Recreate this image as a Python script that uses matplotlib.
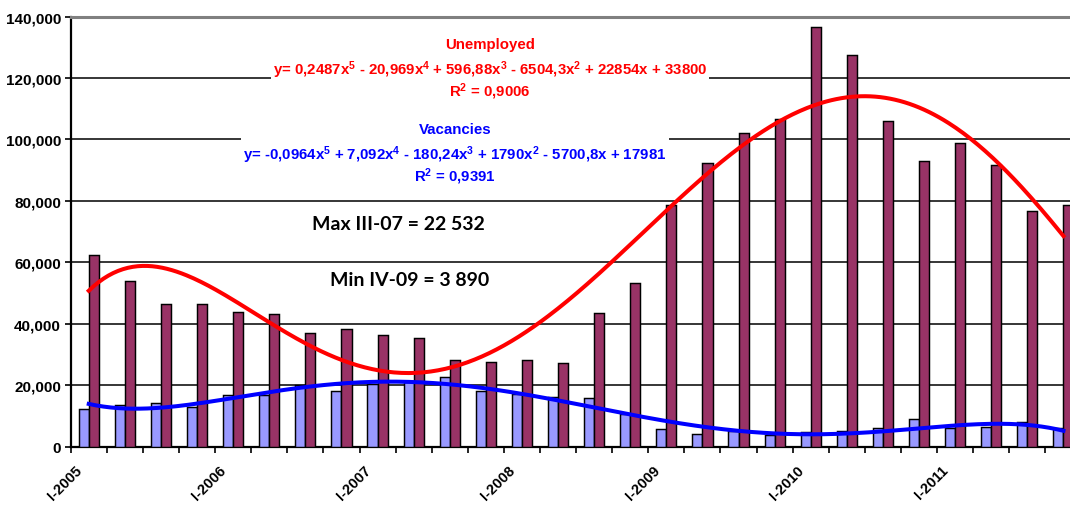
import numpy as np
import matplotlib
matplotlib.use("Agg")
import matplotlib.pyplot as plt
from matplotlib.ticker import FuncFormatter
from matplotlib.patches import Rectangle
from matplotlib.transforms import blended_transform_factory, ScaledTranslation

plt.rcParams["font.family"] = ["Liberation Sans", "DejaVu Sans"]
plt.rcParams["font.weight"] = "bold"
plt.rcParams["mathtext.fontset"] = "custom"
plt.rcParams["mathtext.rm"] = "Liberation Sans:bold"
plt.rcParams["mathtext.it"] = "Liberation Sans:bold"
plt.rcParams["mathtext.bf"] = "Liberation Sans:bold"

# Quarters I-2005 .. IV-2011
quarters = [f"{q}-{y}" for y in range(2005, 2012) for q in ("I", "II", "III", "IV")]

vacancies = [12200, 13600, 14300, 12800, 16900, 16800, 19900, 18000,
             20500, 21000, 22532, 18000, 17100, 16000, 15900, 10500,
             5700, 4000, 5200, 3890, 4600, 5200, 5950, 9100,
             5900, 6400, 8000, 6100]

unemployed = [62500, 54000, 46300, 46300, 43800, 43000, 37000, 38400,
              36400, 35200, 28300, 27700, 28300, 27100, 43600, 53400,
              78700, 92300, 102100, 106600, 136500, 127500, 106000, 93000,
              98800, 91700, 76700, 78600]

# Polynomial trend coefficients (highest power first)
unemp_coef = [0.2487, -20.969, 596.88, -6504.3, 22854, 33800]
vac_coef = [-0.0964, 7.092, -180.24, 1790, -5700.8, 17981]

unemp_lines = ["Unemployed",
               "y= 0,2487x$^5$ - 20,969x$^4$ + 596,88x$^3$ - 6504,3x$^2$ + 22854x + 33800",
               "R$^2$ = 0,9006"]
vac_lines = ["Vacancies",
             "y= -0,0964x$^5$ + 7,092x$^4$ - 180,24x$^3$ + 1790x$^2$ - 5700,8x + 17981",
             "R$^2$ = 0,9391"]
max_note = "Max III-07 = 22 532"
min_note = "Min IV-09 = 3 890"

W, H = 1070, 506
fig = plt.figure(figsize=(W / 100, H / 100), dpi=100)
ax = fig.add_axes([70.7 / W, 1 - 447.6 / H, 1010.8 / W, 430.1 / H])

n = len(quarters)
x = np.arange(1, n + 1)
bw = 0.28
ax.bar(x - bw / 2, vacancies, width=bw, color="#9999FF", edgecolor="black",
       linewidth=1.05, zorder=3)
ax.bar(x + bw / 2, unemployed, width=bw, color="#993366", edgecolor="black",
       linewidth=1.05, zorder=3)

xs = np.linspace(1, n, 400)
ax.plot(xs, np.polyval(unemp_coef, xs), color="#FF0000", lw=2.9, zorder=4)
ax.plot(xs, np.polyval(vac_coef, xs), color="#0000FF", lw=2.9, zorder=4)

ax.set_xlim(0.5, n + 0.5)
ax.set_ylim(0, 140000)
ax.set_yticks(np.arange(0, 140001, 20000))
ax.yaxis.set_major_formatter(FuncFormatter(lambda v, p: f"{int(v):,}"))
ax.grid(axis="y", color="black", lw=1.1, zorder=1)
ax.set_axisbelow(True)

# tick marks on category boundaries
ax.set_xticks(np.arange(0.5, n + 1, 1.0))
ax.set_xticklabels([])
ax.tick_params(axis="x", which="major", length=4, width=1.2, direction="out")
ax.tick_params(axis="y", length=4, width=1.2, pad=3, labelsize=11)
for lab in ax.get_yticklabels():
    lab.set_fontweight("bold")

# rotated year labels under every fourth quarter
lab_tr = blended_transform_factory(ax.transData, ax.transAxes) + \
    ScaledTranslation(-9 / 100, -21 / 100, fig.dpi_scale_trans)
for xi, q in zip(x[::4], quarters[::4]):
    ax.text(xi, 0, q, transform=lab_tr, rotation=45, ha="right", va="center",
            rotation_mode="anchor", fontsize=10.5, fontweight="bold",
            clip_on=False)

for side in ("left", "bottom"):
    ax.spines[side].set_color("black")
    ax.spines[side].set_linewidth(1.6)
ax.spines["top"].set_color("#808080")
ax.spines["top"].set_linewidth(2.2)
ax.spines["right"].set_color("#808080")
ax.spines["right"].set_linewidth(2.2)


def label_block(cx, ys, lines, color):
    texts = []
    for yy, s in zip(ys, lines):
        t = fig.text(cx / W, 1 - yy / H, s, color=color, ha="center",
                     va="center", fontsize=10.8, fontweight="bold", zorder=6)
        texts.append(t)
    fig.canvas.draw()
    r = fig.canvas.get_renderer()
    bb = texts[1].get_window_extent(r)
    top = ys[0]
    bot = ys[2]
    fig.add_artist(Rectangle(((bb.x0 - 2) / W, 1 - bot / H),
                             (bb.width + 4) / W, (bot - top) / H,
                             transform=fig.transFigure, facecolor="white",
                             edgecolor="none", zorder=5))


label_block(490, [45, 70, 92], unemp_lines, "#FF0000")
label_block(455, [130, 155, 177], vac_lines, "#0000FF")

fig.text(398.5 / W, 1 - 225 / H, max_note, ha="center", va="center",
         fontsize=14, fontweight="bold", family=["Lato", "DejaVu Sans"])
fig.text(409.5 / W, 1 - 280 / H, min_note, ha="center", va="center",
         fontsize=14, fontweight="bold", family=["Lato", "DejaVu Sans"])

fig.savefig("out.png", dpi=100)
